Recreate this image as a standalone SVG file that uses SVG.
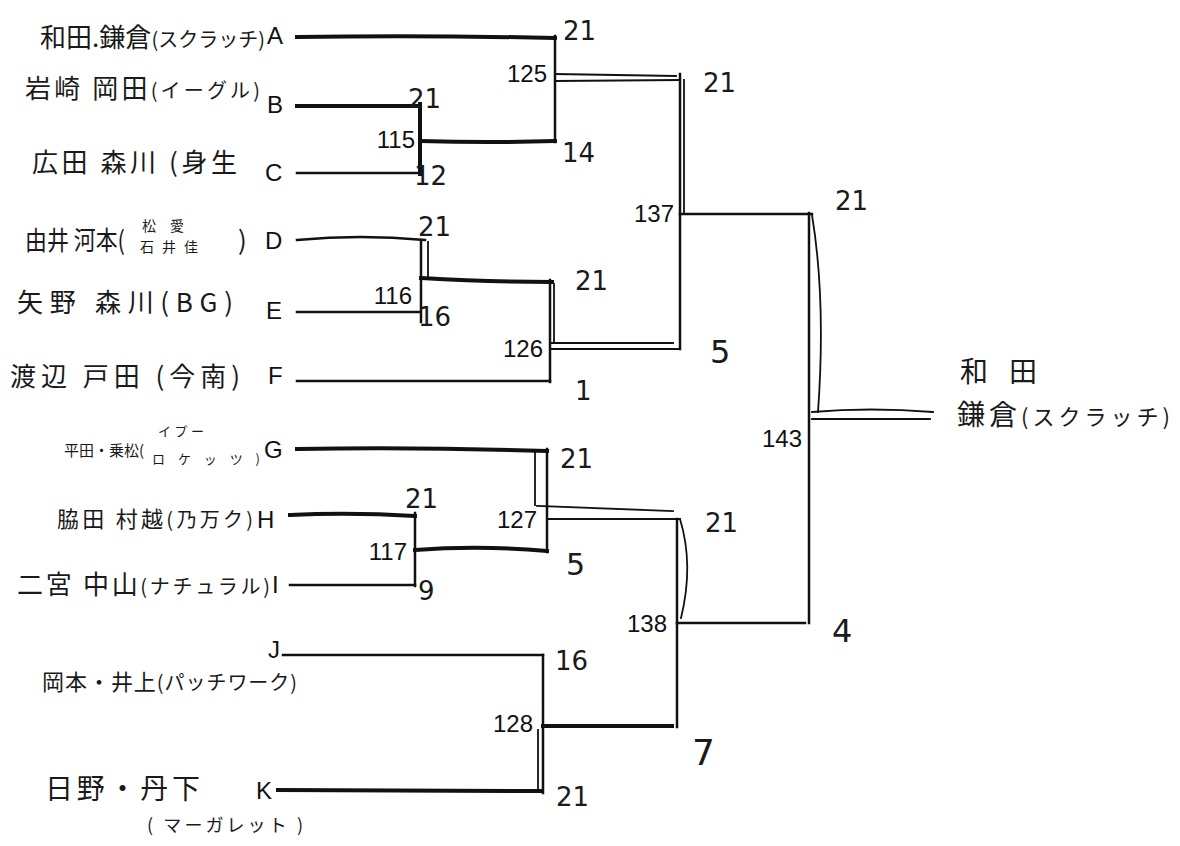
<svg xmlns="http://www.w3.org/2000/svg" width="1180" height="846" viewBox="0 0 1180 846">
<style>
.bg{fill:#ffffff}
.jp{font-family:"Noto Sans CJK JP","Noto Sans CJK SC",sans-serif;fill:#1a1a1a;font-size:26px}
.sm{font-size:20px}
.xs{font-size:14px}
.let{font-family:"Liberation Sans",Arial,sans-serif;fill:#111;font-size:24px}
.num{font-family:"Liberation Sans",Arial,sans-serif;fill:#111;font-size:24px;text-anchor:end}
.sc{font-family:"DejaVu Sans","Liberation Sans",sans-serif;fill:#1a1a1a;font-size:26px}
.ln{fill:none;stroke:#111;stroke-width:2.5;stroke-linecap:square;stroke-linejoin:miter}
.tk{stroke-width:4}
.th{stroke-width:1.8}
</style>
<rect class="bg" x="0" y="0" width="1180" height="846"/>

<g id="connectors">
  <path class="ln tk" d="M297 37 Q420 35 555 38"/>
  <path class="ln tk" d="M297 106 L420 106"/>
  <path class="ln" d="M297 173 L420 173"/>
  <path class="ln tk" d="M420 104 V174"/>
  <path class="ln tk" d="M420 141 Q490 143 555 141"/>
  <path class="ln" d="M555 36 V142"/>
  <path class="ln th" d="M555 74 L676 76"/>
  <path class="ln th" d="M555 81 L680 80"/>
  <path class="ln" d="M297 240 Q360 234 425 240"/>
  <path class="ln" d="M297 312 H420"/>
  <path class="ln" d="M421 240 V322"/>
  <path class="ln th" d="M428 242 V278"/>
  <path class="ln tk" d="M421 278 Q490 282 552 282"/>
  <path class="ln" d="M550 280 V382"/>
  <path class="ln th" d="M554 284 V343"/>
  <path class="ln" d="M297 381 H550"/>
  <path class="ln th" d="M550 343 L673 343"/>
  <path class="ln th" d="M550 349 H680"/>
  <path class="ln" d="M680 74 V349"/>
  <path class="ln th" d="M684 80 V212"/>
  <path class="ln" d="M680 214 H812"/>
  <path class="ln tk" d="M297 449 Q420 447 547 451"/>
  <path class="ln" d="M547 449 V552"/>
  <path class="ln th" d="M535 451 V505"/>
  <path class="ln tk" d="M290 515 Q350 512 415 516"/>
  <path class="ln" d="M290 585 H415"/>
  <path class="ln" d="M415 513 V586"/>
  <path class="ln tk" d="M415 550 Q480 545 547 551"/>
  <path class="ln th" d="M537 506 L673 511"/>
  <path class="ln th" d="M547 519 H680"/>
  <path class="ln" d="M677 519 V727"/>
  <path class="ln th" d="M680 519 Q694 565 681 618"/>
  <path class="ln" d="M677 623 H805"/>
  <path class="ln" d="M283 655 H543"/>
  <path class="ln tk" d="M278 790 L540 791"/>
  <path class="ln" d="M543 655 V793"/>
  <path class="ln th" d="M538 730 V790"/>
  <path class="ln tk" d="M543 726 H672"/>
  <path class="ln" d="M809 213 V623"/>
  <path class="ln th" d="M812 215 Q826 300 818 412"/>
  <path class="ln th" d="M812 412 Q870 407 933 412"/>
  <path class="ln th" d="M812 419 H930"/>
</g>

<g id="team-A">
  <text class="jp" x="40" y="47" textLength="225">和田.鎌倉<tspan class="sm">(スクラッチ)</tspan></text>
  <text class="let" x="267" y="44">A</text>
</g>
<g id="team-B">
  <text class="jp" x="25" y="98" textLength="235">岩崎 岡田<tspan class="sm">(イーグル)</tspan></text>
  <text class="let" x="267" y="113">B</text>
</g>
<g id="team-C">
  <text class="jp" x="32" y="172" textLength="205">広田 森川 (身生</text>
  <text class="let" x="265" y="181">C</text>
</g>
<g id="team-D">
  <text class="jp" x="25" y="250" textLength="100" lengthAdjust="spacingAndGlyphs">由井 河本(</text>
  <text class="jp xs" x="142" y="231" textLength="42">松愛</text>
  <text class="jp xs" x="140" y="252" textLength="58">石井佳</text>
  <text class="jp" x="238" y="250">)</text>
  <text class="let" x="265" y="249">D</text>
</g>
<g id="team-E">
  <text class="jp" x="17" y="312" textLength="216">矢野 森川(BG)</text>
  <text class="let" x="266" y="319">E</text>
</g>
<g id="team-F">
  <text class="jp" x="10" y="386" textLength="230">渡辺 戸田 (今南)</text>
  <text class="let" x="268" y="384">F</text>
</g>
<g id="team-G">
  <text class="jp" x="64" y="456" style="font-size:15px">平田・乗松(</text>
  <text class="jp" x="158" y="436" textLength="46" style="font-size:13px">イプー</text>
  <text class="jp" x="152" y="464" textLength="108" style="font-size:13px">ロケッツ)</text>
  <text class="let" x="264" y="458">G</text>
</g>
<g id="team-H">
  <text class="jp" x="57" y="527" textLength="196" style="font-size:22px">脇田 村越<tspan class="sm">(乃万ク)</tspan></text>
  <text class="let" x="257" y="528">H</text>
</g>
<g id="team-I">
  <text class="jp" x="17" y="594" textLength="253">二宮 中山<tspan class="sm">(ナチュラル)</tspan></text>
  <text class="let" x="272" y="593">I</text>
</g>
<g id="team-J">
  <text class="jp" x="42" y="690" textLength="255" style="font-size:22px">岡本・井上<tspan class="sm">(パッチワーク)</tspan></text>
  <text class="let" x="268" y="658">J</text>
</g>
<g id="team-K">
  <text class="jp" x="45" y="799" textLength="155" style="font-size:28px">日野・丹下</text>
  <text class="jp" x="147" y="832" textLength="156" style="font-size:18px">( マーガレット )</text>
  <text class="let" x="256" y="799">K</text>
</g>

<g id="match-115">
  <text class="num" x="415" y="148">115</text>
  <text class="sc" x="408" y="108">21</text>
  <text class="sc" x="414" y="185">12</text>
</g>
<g id="match-125">
  <text class="num" x="547" y="82">125</text>
  <text class="sc" x="563" y="40">21</text>
  <text class="sc" x="562" y="162">14</text>
</g>
<g id="match-116">
  <text class="num" x="412" y="304">116</text>
  <text class="sc" x="418" y="236">21</text>
  <text class="sc" x="418" y="326">16</text>
</g>
<g id="match-126">
  <text class="num" x="543" y="357">126</text>
  <text class="sc" x="575" y="290">21</text>
  <text class="sc" x="575" y="400">1</text>
</g>
<g id="match-137">
  <text class="num" x="674" y="222">137</text>
  <text class="sc" x="703" y="92">21</text>
  <text class="sc" x="710" y="363" style="font-size:32px">5</text>
</g>
<g id="match-117">
  <text class="num" x="407" y="560">117</text>
  <text class="sc" x="405" y="508">21</text>
  <text class="sc" x="418" y="600">9</text>
</g>
<g id="match-127">
  <text class="num" x="537" y="528">127</text>
  <text class="sc" x="560" y="468">21</text>
  <text class="sc" x="566" y="575" style="font-size:30px">5</text>
</g>
<g id="match-128">
  <text class="num" x="533" y="732">128</text>
  <text class="sc" x="555" y="670">16</text>
  <text class="sc" x="556" y="806">21</text>
</g>
<g id="match-138">
  <text class="num" x="667" y="632">138</text>
  <text class="sc" x="705" y="532">21</text>
  <text class="sc" x="692" y="765" style="font-size:36px">7</text>
</g>
<g id="match-143">
  <text class="num" x="802" y="447">143</text>
  <text class="sc" x="835" y="210">21</text>
  <text class="sc" x="832" y="642" style="font-size:32px">4</text>
</g>
<g id="winner">
  <text class="jp" x="960" y="382" textLength="77" style="font-size:28px">和田</text>
  <text class="jp" x="957" y="425" textLength="213" style="font-size:28px">鎌倉<tspan style="font-size:22px">(スクラッチ)</tspan></text>
</g>
</svg>
